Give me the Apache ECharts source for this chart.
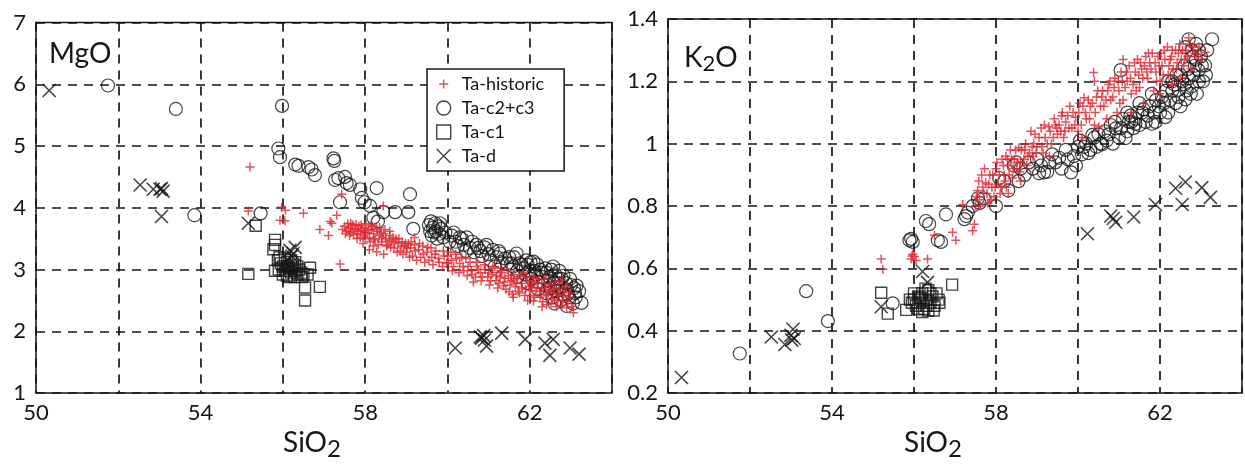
<!DOCTYPE html>
<html><head><meta charset="utf-8">
<script src="https://cdn.jsdelivr.net/npm/echarts@6/dist/echarts.min.js"></script>
<style>html,body{margin:0;padding:0;background:#fff}#c{width:1245px;height:466px}</style>
</head><body><div id="c"></div>
<script>
// ---------- DATA (SiO2, oxide wt%) ----------
const seriesNames = ['Ta-historic', 'Ta-c2+c3', 'Ta-c1', 'Ta-d'];
const xTickLabels = ['50', '54', '58', '62'];
const mgoTicks = ['1', '2', '3', '4', '5', '6', '7'];
const k2oTicks = ['0.2', '0.4', '0.6', '0.8', '1', '1.2', '1.4'];

// MgO panel
const mgoTaD = [[50.32,5.90],[52.53,4.37],[52.85,4.30],[53.01,4.30],[53.09,4.27],[53.05,4.31],[53.05,3.86],[55.16,3.75],
  [56.17,3.31],[56.25,3.26],[56.3,3.36],[56.22,3.22],
  [60.19,1.73],[60.8,1.91],[60.83,1.89],[60.88,1.93],[60.9,1.86],[60.95,1.76],[61.32,1.97],[61.89,1.87],[62.37,1.81],
  [62.57,1.87],[62.49,1.61],[62.98,1.73],[63.2,1.63]];
const mgoTaC1 = [[55.16,2.93],[55.34,3.71],[55.81,3.48],[55.81,3.40],[55.77,3.33],[55.81,2.98],[56.46,2.88],[56.54,2.71],
  [56.9,2.72],[56.54,2.50],[55.95,3.10],[56.0,3.05],[56.05,2.98],[56.1,3.12],[56.15,3.02],[56.2,2.95],[56.25,3.08],
  [56.3,2.98],[56.35,2.92],[56.1,2.9],[56.2,3.15],[56.28,2.88],[56.4,3.0],[56.45,2.95],[56.05,3.18],[55.9,3.0],
  [56.15,2.88],[56.35,3.05],[56.5,2.92],[56.0,2.92],[56.22,3.02],[56.3,3.12],[56.12,3.05],[56.66,3.03],[56.6,2.92],
  [55.88,3.15],[55.92,3.2]];
const mgoTaC23 = [[51.75,5.98],[53.4,5.6],[55.98,5.65],[53.85,3.88],[55.46,3.91],[55.89,4.96],[55.93,4.82],[56.3,4.70],
  [56.38,4.68],[56.62,4.66],[56.7,4.62],[56.78,4.53],[57.23,4.80],[57.25,4.76],[57.27,4.45],[57.35,4.48],[57.51,4.50],
  [57.55,4.40],[57.63,4.37],[57.39,4.09],[57.88,4.30],[57.92,4.16],[57.99,4.09],[58.12,4.03],[58.28,4.32],[58.2,3.84],
  [58.31,3.78],[58.44,3.93],[58.73,3.93],[59.05,3.93],[59.09,4.22],[59.17,3.66],
  [59.55,3.72],[59.6,3.78],[59.65,3.68],[59.7,3.75],[59.72,3.62],[59.78,3.70],[59.8,3.58],[59.85,3.66],[59.62,3.55],
  [59.9,3.52],[59.75,3.50],[59.68,3.60],[59.82,3.75],[59.58,3.62],[59.95,3.6],
  [60.1,3.55],[60.2,3.45],[60.3,3.52],[60.4,3.40],[60.47,3.52],[60.55,3.35],[60.7,3.40],[60.8,3.30],[60.9,3.36],
  [61.0,3.25],[61.05,3.15],[61.1,3.32],[61.2,3.20],[61.28,3.26],[61.3,3.12],[61.45,3.10],[61.5,3.20],[61.6,3.05],
  [61.68,3.26],[61.7,2.98],[61.75,3.10],[61.85,3.02],[61.9,2.92],[61.95,3.08],[62.0,2.98],[62.05,2.85],[62.09,3.13],
  [62.15,2.92],[62.2,2.80],[62.25,3.0],[62.3,2.88],[62.35,2.75],[62.4,2.95],[62.45,2.82],[62.5,2.70],[62.57,3.05],
  [62.6,2.78],[62.65,2.65],[62.7,2.85],[62.75,2.72],[62.8,2.60],[62.82,2.90],[62.9,2.68],[62.95,2.55],[63.0,2.75],
  [63.05,2.45],[63.14,2.74],[63.1,2.62],[63.26,2.46],[62.9,2.41],[62.6,2.45],
  [60.05,3.45],[60.15,3.6],[60.25,3.38],[60.35,3.5],[60.45,3.3],[60.6,3.45],[60.65,3.28],[60.75,3.35],[60.85,3.22],
  [60.95,3.4],[61.15,3.05],[61.25,3.3],[61.4,3.18],[61.55,3.1],[61.62,3.2],[61.8,3.08],[61.92,3.15],[62.02,3.12],
  [62.12,2.98],[62.18,3.08],[62.28,2.95],[62.38,3.02],[62.48,2.88],[62.52,3.0],[62.62,2.92],[62.68,2.78],[62.72,2.98],
  [62.78,2.85],[62.88,2.78],[62.92,2.6],[62.98,2.85],[63.08,2.7],[63.12,2.55],[62.55,2.55],[62.75,2.5],[63.2,2.65],
  [62.4,2.62],[62.2,2.68],[61.95,2.78],[61.7,2.88]];
const mgoHistoric = [[55.2,4.66],[55.16,3.95],[55.97,4.01],[56.06,3.96],[55.93,3.80],[56.05,3.79],[56.5,3.91],[57.31,3.88],
  [57.43,4.22],[57.19,3.75],[56.9,3.65],[57.11,3.55],[57.39,3.09],[57.15,3.78],[58.44,4.03],
  [57.45,3.65],[57.5,3.70],[57.55,3.62],[57.6,3.68],[57.65,3.60],[57.7,3.72],[57.75,3.65],[57.8,3.58],[57.85,3.70],
  [57.9,3.63],[57.95,3.55],[58.0,3.68],[58.05,3.60],[58.1,3.52],[58.15,3.65],[58.2,3.58],[58.25,3.48],[58.3,3.62],
  [58.35,3.55],[58.4,3.45],[58.45,3.58],[58.5,3.50],[58.55,3.40],[58.6,3.55],[58.65,3.46],[58.7,3.35],[58.75,3.50],
  [58.8,3.42],[58.85,3.30],[58.9,3.45],[58.95,3.38],[59.0,3.28],[59.05,3.42],[59.1,3.35],[59.15,3.22],[59.2,3.40],
  [59.3,3.32],[59.35,3.20],[59.4,3.38],[59.5,3.28],[59.55,3.15],[59.6,3.35],[59.7,3.25],[59.8,3.12],[59.9,3.30],
  [59.98,3.10],[60.0,3.22],[60.1,3.15],[60.15,3.05],[60.2,3.25],[60.3,3.10],[60.4,2.98],[60.45,3.18],[60.5,3.05],
  [60.6,2.92],[60.63,2.80],[60.7,3.12],[60.75,3.0],[60.85,2.88],[60.9,3.08],[61.0,2.95],[61.05,2.82],[61.1,3.02],
  [61.2,2.9],[61.25,2.78],[61.3,2.98],[61.36,2.74],[61.4,2.86],[61.45,3.0],[61.5,2.64],[61.55,2.82],[61.6,2.92],
  [61.65,2.72],[61.7,2.85],[61.75,2.62],[61.8,2.78],[61.85,2.95],[61.9,2.68],[61.95,2.82],[62.0,2.58],[62.05,2.75],
  [62.09,2.49],[62.1,2.88],[62.15,2.65],[62.2,2.78],[62.25,2.55],[62.3,2.70],[62.35,2.85],[62.41,2.43],[62.45,2.62],
  [62.5,2.75],[62.55,2.52],[62.6,2.68],[62.65,2.40],[62.7,2.60],[62.75,2.82],[62.8,2.50],[62.85,2.65],[62.9,2.38],
  [62.95,2.55],[63.06,2.30],[57.65,3.75],[57.9,3.72],[58.15,3.72],[58.0,3.5],[58.35,3.68],[57.8,3.50],[58.6,3.62],
  [59.2,3.52],[58.1,3.32],[58.28,3.29],[58.45,3.25],[58.2,3.38],[57.95,3.42],
  [57.52,3.58],[57.58,3.74],[57.62,3.55],[57.68,3.66],[57.72,3.57],[57.78,3.73],[57.82,3.62],[57.88,3.52],[57.92,3.66],
  [57.98,3.6],[58.02,3.74],[58.08,3.64],[58.12,3.45],[58.18,3.7],[58.22,3.5],[58.28,3.66],[58.32,3.4],[58.38,3.6],
  [58.42,3.52],[58.48,3.65],[58.52,3.38],[58.58,3.48],[58.62,3.36],[58.68,3.52],[58.72,3.44],[58.78,3.28],[58.82,3.5],
  [58.88,3.38],[58.92,3.25],[58.98,3.42],[59.02,3.35],[59.08,3.2],[59.12,3.45],[59.22,3.3],[59.25,3.15],[59.32,3.42],
  [59.42,3.25],[59.45,3.12],[59.52,3.36],[59.62,3.2],[59.65,3.08],[59.72,3.3],[59.78,3.18],[59.88,3.05],[59.92,3.22],
  [60.02,3.12],[60.08,3.28],[60.12,2.98],[60.22,3.18],[60.28,2.95],[60.35,3.2],[60.38,3.05],[60.48,2.9],[60.55,3.12],
  [60.58,2.98],[60.68,2.88],[60.72,3.05],[60.8,2.95],[60.82,2.82],[60.92,3.0],[60.98,2.88],[61.02,2.75],[61.08,2.92],
  [61.15,3.05],[61.18,2.82],[61.22,2.7],[61.28,2.88],[61.32,2.95],[61.38,2.8],[61.42,2.68],[61.48,2.9],[61.52,2.75],
  [61.58,2.6],[61.62,2.85],[61.68,2.78],[61.72,2.65],[61.78,2.9],[61.82,2.7],[61.88,2.58],[61.92,2.88],[61.98,2.72],
  [62.02,2.66],[62.08,2.8],[62.12,2.55],[62.18,2.7],[62.22,2.85],[62.28,2.6],[62.32,2.48],[62.38,2.72],[62.42,2.58],
  [62.48,2.68],[62.52,2.45],[62.58,2.62],[62.62,2.8],[62.68,2.5],[62.72,2.7],[62.78,2.42],[62.82,2.58],[62.88,2.72],
  [62.92,2.48],[62.98,2.62],[63.02,2.4],[62.3,2.4],[61.95,2.5],[61.6,2.55]];

// K2O panel
const k2oTaD = [[50.33,0.25],[52.52,0.38],[52.85,0.356],[53.0,0.385],[53.05,0.405],[53.08,0.375],[53.02,0.37],[55.2,0.477],
  [56.21,0.59],[56.33,0.555],[60.23,0.711],[60.8,0.768],[60.92,0.748],[60.86,0.76],[61.36,0.765],[61.89,0.805],
  [62.38,0.857],[62.62,0.877],[62.54,0.805],[63.02,0.859],[63.23,0.828]];
const k2oTaC1 = [[55.2,0.522],[55.36,0.455],[56.93,0.548],[55.81,0.467],[55.95,0.49],[56.0,0.5],[56.05,0.48],[56.1,0.51],
  [56.15,0.49],[56.2,0.52],[56.25,0.47],[56.3,0.5],[56.35,0.53],[56.4,0.49],[56.45,0.51],[56.5,0.48],[56.55,0.52],
  [56.6,0.5],[56.2,0.46],[56.35,0.465],[56.1,0.47],[56.0,0.52],[56.28,0.535],[56.48,0.465],[56.15,0.505],[56.4,0.52],
  [56.62,0.49],[55.9,0.5],[56.3,0.48]];
const k2oTaC23 = [[51.75,0.327],[53.37,0.527],[53.9,0.431],[55.48,0.488],[55.89,0.69],[55.97,0.685],[55.93,0.695],
  [56.29,0.752],[56.37,0.742],[56.58,0.69],[56.66,0.685],[56.78,0.773],[57.23,0.758],[57.27,0.768],[57.31,0.779],
  [57.43,0.80],[57.6,0.81],[57.7,0.825],[57.56,0.825],[58.0,0.80],[58.08,0.89],[58.2,0.88],[58.43,0.93],[58.5,0.94],
  [58.7,0.9],[58.9,0.92],[59.05,0.905],[59.0,0.95],[59.17,0.908],[59.3,0.94],[59.37,0.966],[59.54,0.955],[59.6,0.92],
  [59.7,0.98],[59.83,0.908],[59.9,0.96],[60.0,0.99],[60.1,0.966],[60.2,1.0],[60.25,0.97],[60.35,1.028],[60.45,0.99],
  [60.5,1.03],[60.59,0.998],[60.7,1.01],[60.8,1.06],[60.92,1.049],[61.0,1.02],[61.1,1.08],[61.16,1.018],[61.24,1.07],
  [61.3,1.07],[61.35,1.05],[61.4,1.064],[61.45,1.1],[61.57,1.10],[61.65,1.07],[61.75,1.12],[61.81,1.064],[61.89,1.07],
  [61.97,1.12],[62.05,1.15],[62.13,1.085],[62.2,1.10],[62.3,1.17],[62.38,1.13],[62.46,1.173],[62.55,1.2],[62.62,1.142],
  [62.7,1.21],[62.78,1.184],[62.85,1.25],[62.94,1.236],[62.78,1.278],[62.7,1.335],[63.27,1.335],[63.1,1.251],
  [62.78,1.30],[61.04,1.236],[63.05,1.2],[62.9,1.16],[63.0,1.28],[62.6,1.25],[62.4,1.22],[62.2,1.2],[61.8,1.16],
  [61.5,1.13],[61.2,1.1],[62.5,1.12],[62.95,1.3],[62.65,1.17],
  [58.3,0.85],[58.55,0.88],[58.6,0.92],[58.8,0.94],[59.1,0.93],[59.25,0.91],[59.45,0.94],[59.75,0.95],[59.95,0.93],
  [60.05,1.01],[60.15,0.99],[60.3,0.98],[60.4,1.02],[60.55,1.0],[60.65,1.04],[60.75,1.03],[60.85,1.0],[60.9,1.07],
  [61.05,1.05],[61.2,1.04],[61.28,1.09],[61.4,1.08],[61.5,1.06],[61.6,1.11],[61.7,1.09],[61.85,1.1],[61.9,1.14],
  [62.0,1.1],[62.1,1.13],[62.15,1.17],[62.25,1.14],[62.35,1.19],[62.45,1.15],[62.5,1.22],[62.6,1.19],[62.68,1.24],
  [62.75,1.16],[62.82,1.22],[62.88,1.27],[62.95,1.2],[63.02,1.25],[63.12,1.22],[63.15,1.3],[62.88,1.32],[62.62,1.31],
  [62.3,1.2]];
const k2oHistoric = [[55.2,0.63],[55.24,0.597],[55.93,0.63],[55.97,0.645],[56.01,0.638],[55.95,0.64],[56.33,0.63],
  [56.5,0.706],[56.94,0.716],[57.02,0.69],[57.47,0.742],[57.43,0.721],[57.19,0.805],[60.38,1.228],[56.05,0.625],
  [57.5,0.80],[57.55,0.85],[57.6,0.82],[57.65,0.9],[57.7,0.84],[57.75,0.875],[57.8,0.81],[57.85,0.9],[57.9,0.86],
  [57.95,0.83],[58.0,0.92],[58.05,0.87],[58.1,0.84],[58.15,0.95],[58.2,0.9],[58.25,0.86],[58.24,0.96],[58.3,0.93],
  [58.35,0.98],[58.4,0.89],[58.45,0.95],[58.5,0.92],[58.56,0.987],[58.6,0.94],[58.7,0.98],[58.75,0.93],[58.88,0.99],
  [58.9,0.96],[58.95,1.03],[59.0,0.99],[59.1,1.05],[59.15,0.97],[59.2,1.02],[59.29,1.054],[59.35,1.0],[59.45,1.06],
  [59.5,1.03],[59.54,1.06],[59.6,1.09],[59.65,1.02],[59.7,1.07],[59.8,1.12],[59.85,1.05],[59.94,1.085],[60.0,1.04],
  [60.05,1.13],[60.15,1.147],[60.2,1.08],[60.3,1.12],[60.4,1.06],[60.45,1.15],[60.51,1.054],[60.63,1.12],[60.6,1.17],
  [60.75,1.19],[60.8,1.14],[60.88,1.18],[60.9,1.21],[60.95,1.1],[61.0,1.17],[61.05,1.23],[61.1,1.14],[61.2,1.2],
  [61.25,1.25],[61.3,1.16],[61.4,1.23],[61.45,1.27],[61.5,1.18],[61.55,1.24],[61.65,1.28],[61.7,1.21],[61.75,1.26],
  [61.81,1.29],[61.85,1.17],[61.9,1.23],[61.95,1.28],[62.0,1.2],[62.05,1.25],[62.1,1.3],[62.2,1.22],[62.25,1.27],
  [62.3,1.3],[62.4,1.24],[62.45,1.29],[62.5,1.21],[62.55,1.3],[62.6,1.27],[62.7,1.34],[62.75,1.24],[62.8,1.31],
  [62.9,1.28],[63.1,1.293],[61.3,1.10],[61.6,1.13],[60.1,1.02],[59.3,0.96],[58.6,0.88],[58.3,0.84],[60.7,1.08],
  [62.0,1.16],[62.3,1.19],[61.1,1.27],[60.4,1.2],
  [57.52,0.83],[57.58,0.88],[57.62,0.8],[57.68,0.86],[57.72,0.92],[57.78,0.84],[57.82,0.87],[57.88,0.82],[57.92,0.9],
  [57.98,0.86],[58.02,0.94],[58.08,0.9],[58.12,0.86],[58.18,0.93],[58.22,0.88],[58.28,0.95],[58.32,0.9],[58.38,0.95],
  [58.42,0.92],[58.48,0.98],[58.52,0.94],[58.58,0.91],[58.62,0.98],[58.68,0.95],[58.72,1.0],[58.78,0.96],[58.82,0.97],
  [58.85,1.04],[58.92,1.0],[58.98,0.97],[59.05,1.02],[59.12,0.99],[59.18,1.06],[59.25,1.0],[59.32,1.04],[59.4,1.02],
  [59.42,1.08],[59.48,1.05],[59.58,1.04],[59.62,1.1],[59.68,1.04],[59.75,1.09],[59.78,1.05],[59.88,1.1],[59.92,1.06],
  [60.02,1.1],[60.08,1.06],[60.12,1.12],[60.18,1.1],[60.25,1.14],[60.28,1.08],[60.35,1.13],[60.42,1.1],[60.48,1.17],
  [60.55,1.12],[60.58,1.15],[60.68,1.14],[60.72,1.17],[60.78,1.2],[60.85,1.15],[60.98,1.2],[61.02,1.13],[61.08,1.2],
  [61.15,1.18],[61.18,1.23],[61.28,1.21],[61.35,1.19],[61.38,1.26],[61.42,1.17],[61.48,1.22],[61.52,1.26],[61.58,1.21],
  [61.62,1.25],[61.68,1.23],[61.72,1.29],[61.78,1.24],[61.88,1.26],[61.92,1.2],[61.98,1.25],[62.02,1.29],[62.08,1.22],
  [62.12,1.27],[62.18,1.31],[62.22,1.25],[62.28,1.28],[62.32,1.24],[62.38,1.3],[62.42,1.26],[62.48,1.32],[62.52,1.27],
  [62.58,1.25],[62.62,1.3],[62.68,1.28],[62.72,1.32],[62.85,1.29],[62.95,1.31],[63.0,1.27]];

// ---------- STYLE ----------
const FONT = 'Lato';
const INK = '#151515';
const RED = '#e0262e';
const plusPath = 'path://M0,0M14,14M2.5,7L11.5,7M7,2.5L7,11.5';
const crossPath = 'path://M0,0L10,10M0,10L10,0';

function mkX(gi, padR) {
  return {
    gridIndex: gi, type: 'value', min: 50, max: 64, interval: 2,
    axisLine: {show: false}, axisTick: {show: false},
    axisLabel: {fontSize: 22, color: INK, fontFamily: FONT, margin: 9,
      formatter: v => xTickLabels.indexOf(String(v)) >= 0 ? String(v) : ''},
    splitLine: {show: true, lineStyle: {color: INK, width: 1.7, type: [9, 7]}},
    name: 'SiO{s|2}', nameLocation: 'middle', nameGap: 28,
    nameTextStyle: {fontSize: 28, color: INK, fontFamily: FONT, padding: [0, padR, 0, 0],
      rich: {s: {fontSize: 24, color: INK, fontFamily: FONT, padding: [12, 0, 0, 0]}}}
  };
}
function mkY(gi, min, max, step, ticks, pad) {
  return {
    gridIndex: gi, type: 'value', min: min, max: max, interval: step,
    axisLine: {show: false}, axisTick: {show: false},
    axisLabel: {fontSize: 22, color: INK, fontFamily: FONT, margin: 10, padding: pad,
      formatter: v => { const s = String(parseFloat(v.toFixed(2))); return ticks.indexOf(s) >= 0 ? s : ''; }},
    splitLine: {show: true, lineStyle: {color: INK, width: 1.7, type: [9, 7]}}
  };
}
function sc(name, gi, data, kind) {
  const base = {name: name, type: 'scatter', xAxisIndex: gi, yAxisIndex: gi, data: data, silent: true};
  if (kind === 'plus') return Object.assign(base, {symbol: plusPath, symbolSize: 14, z: 3,
    itemStyle: {color: 'rgba(0,0,0,0)', borderColor: RED, borderWidth: 1.5}});
  if (kind === 'circle') return Object.assign(base, {symbol: 'circle', symbolSize: 13, z: 2,
    itemStyle: {color: 'rgba(0,0,0,0)', borderColor: INK, borderWidth: 1.2}});
  if (kind === 'rect') return Object.assign(base, {symbol: 'rect', symbolSize: 11, z: 4,
    itemStyle: {color: 'rgba(0,0,0,0)', borderColor: INK, borderWidth: 1.4}});
  return Object.assign(base, {symbol: crossPath, symbolSize: 13, z: 5,
    itemStyle: {color: 'rgba(0,0,0,0)', borderColor: INK, borderWidth: 1.6}});
}

const chart = echarts.init(document.getElementById('c'), null, {renderer: 'canvas'});
chart.setOption({
  animation: false,
  backgroundColor: '#fff',
  title: [
    {text: 'MgO', left: 49, top: 40, padding: 0, textStyle: {fontSize: 28, fontWeight: 'normal', color: INK, fontFamily: FONT}},
    {text: 'K{s|2}O', left: 684, top: 41, padding: 0, textStyle: {fontSize: 28, fontWeight: 'normal', color: INK, fontFamily: FONT,
      rich: {s: {fontSize: 22, color: INK, fontFamily: FONT, padding: [12, 0, 0, 0]}}}}
  ],
  legend: {
    left: 427, top: 69, orient: 'vertical', padding: [6, 20, 6, 9], itemGap: 6, itemWidth: 14, itemHeight: 14,
    borderColor: INK, borderWidth: 1.5, backgroundColor: '#fff', borderRadius: 0,
    textStyle: {fontSize: 18, color: INK, fontFamily: FONT, padding: [0, 0, 0, 6]},
    itemStyle: {borderWidth: 1.4},
    data: seriesNames, selectedMode: false
  },
  grid: [
    {left: 36, top: 22.5, width: 576, height: 386.5, show: true, borderColor: INK, borderWidth: 1.5, backgroundColor: 'transparent'},
    {left: 668, top: 19, width: 575, height: 385, show: true, borderColor: INK, borderWidth: 1.5, backgroundColor: 'transparent'}
  ],
  xAxis: [mkX(0, 24), mkX(1, 44)],
  yAxis: [mkY(0, 1, 7, 1, mgoTicks, [0, 0, 10, 0]), mkY(1, 0.2, 1.4, 0.2, k2oTicks, 0)],
  series: [
    sc('Ta-c2+c3', 0, mgoTaC23, 'circle'),
    sc('Ta-historic', 0, mgoHistoric, 'plus'),
    sc('Ta-c1', 0, mgoTaC1, 'rect'),
    sc('Ta-d', 0, mgoTaD, 'cross'),
    sc('Ta-c2+c3', 1, k2oTaC23, 'circle'),
    sc('Ta-historic', 1, k2oHistoric, 'plus'),
    sc('Ta-c1', 1, k2oTaC1, 'rect'),
    sc('Ta-d', 1, k2oTaD, 'cross')
  ]
});
</script></body></html>
